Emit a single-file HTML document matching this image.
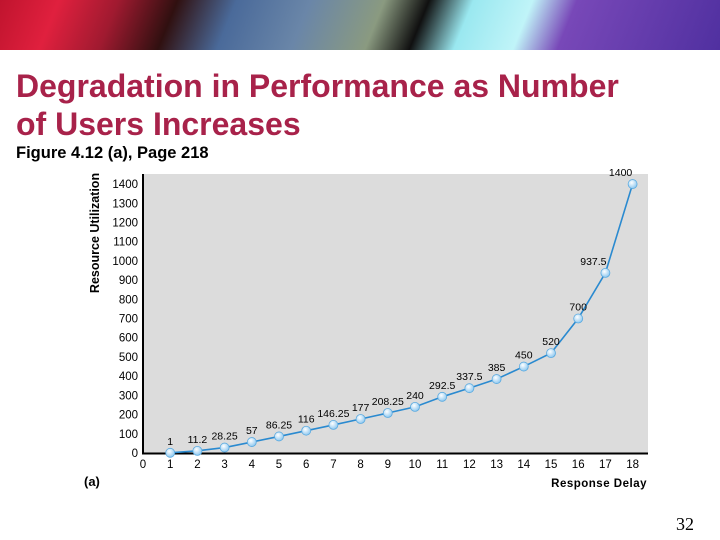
<!DOCTYPE html>
<html><head><meta charset="utf-8"><style>
body{margin:0;width:720px;height:540px;overflow:hidden;background:#fff;font-family:"Liberation Sans",sans-serif;position:relative}
#banner{position:absolute;left:0;top:0;width:720px;height:50px;background:linear-gradient(112deg,#c0142e 0%,#e0203e 8%,#a01a30 16%,#301010 24%,#4a6a9a 32%,#6a86a8 42%,#8a9a80 52%,#101010 58%,#9ae8f0 64%,#c0f4f8 72%,#7848b8 78%,#5030a0 100%)}
h1{position:absolute;left:16px;top:67px;margin:0;font-size:32px;line-height:38px;color:#a8224a;font-weight:bold;white-space:nowrap}
#sub{position:absolute;left:16px;top:144px;font-size:16.5px;font-weight:bold;color:#000}
#pg{position:absolute;left:676px;top:514px;font-family:"Liberation Serif",serif;font-size:18px;color:#000}
</style></head><body>
<div id="banner"></div>
<h1>Degradation in Performance as Number<br>of Users Increases</h1>
<div id="sub">Figure 4.12 (a), Page 218</div>
<div id="pg">32</div>
<svg id="chart" width="720" height="540" style="position:absolute;left:0;top:0"></svg>
<script>
const xs=[1,2,3,4,5,6,7,8,9,10,11,12,13,14,15,16,17,18];
const ys=[1,11.2,28.25,57,86.25,116,146.25,177,208.25,240,292.5,337.5,385,450,520,700,937.5,1400];
const labels=["1","11.2","28.25","57","86.25","116","146.25","177","208.25","240","292.5","337.5","385","450","520","700","937.5","1400"];
const yTicks=[0,100,200,300,400,500,600,700,800,900,1000,1100,1200,1300,1400];
const xTicks=[0,1,2,3,4,5,6,7,8,9,10,11,12,13,14,15,16,17,18];
const X=v=>143+v*27.2, Y=v=>453-v*0.1921;
const svg=document.getElementById('chart');const NS='http://www.w3.org/2000/svg';
function mk(t,a,txt){const e=document.createElementNS(NS,t);for(const k in a)e.setAttribute(k,a[k]);if(txt!==undefined)e.textContent=txt;svg.appendChild(e);return e;}
let e=mk('rect',{x:143,y:174,width:505,height:279,fill:'#dcdcdc'});


e=mk('line',{x1:143,y1:174,x2:143,y2:454,stroke:'#000','stroke-width':2});


e=mk('line',{x1:142,y1:453.5,x2:648,y2:453.5,stroke:'#000','stroke-width':2});


yTicks.forEach(t=>{e=mk('text',{x:138,y:Y(t)+4,'text-anchor':'end','font-size':11.5,fill:'#000'},t);

});
xTicks.forEach(t=>{e=mk('text',{x:X(t),y:468,'text-anchor':'middle','font-size':11.5,fill:'#000'},t);

});
e=mk('text',{x:0,y:0,transform:'translate(99,233) rotate(-90)','text-anchor':'middle','font-size':12.5,'font-weight':'bold',fill:'#000'},'Resource Utilization');


e=mk('text',{x:647,y:487,'text-anchor':'end','font-size':11.5,'font-weight':'bold',fill:'#000','letter-spacing':'0.5'},'Response Delay');


e=mk('text',{x:84,y:486,'font-size':13,'font-weight':'bold',fill:'#000'},'(a)');


mk('defs',{}).innerHTML='<radialGradient id="g" cx="40%" cy="35%" r="65%"><stop offset="0" stop-color="#fff"/><stop offset="1" stop-color="#8ec8f0"/></radialGradient>';
e=mk('polyline',{points:xs.map((x,i)=>X(x)+','+Y(ys[i])).join(' '),fill:'none',stroke:'#2a8ad0','stroke-width':1.6});


xs.forEach((x,i)=>{e=mk('circle',{cx:X(x),cy:Y(ys[i]),r:4.5,fill:'url(#g)',stroke:'#5aaae0','stroke-width':0.8});


e=mk('text',{x:X(x)+(i>=16?-12:0),y:Y(ys[i])-8,'text-anchor':'middle','font-size':10.5,fill:'#000'},labels[i]);

});
</script>
</body></html>
